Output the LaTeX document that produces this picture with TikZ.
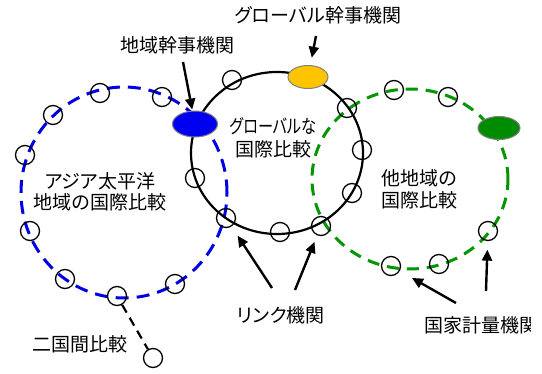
\documentclass[tikz,border=0pt]{standalone}
\usepackage{fontspec}
\setmainfont{Noto Sans CJK JP}[RawFeature=+palt]
\usetikzlibrary{arrows.meta,shapes.geometric}
\definecolor{rblue}{RGB}{0,0,225}
\definecolor{rgreen}{RGB}{0,150,0}
\definecolor{eblue}{RGB}{0,0,240}
\definecolor{eyellow}{RGB}{255,196,0}
\definecolor{egreen}{RGB}{0,140,0}
\begin{document}
\begin{tikzpicture}[x=1pt,y=-1pt,
  lab/.style={font=\fontsize{19}{22}\selectfont, inner sep=0pt, align=center},
  sm/.style={circle,draw=black,line width=1.3pt,minimum size=19pt,inner sep=0pt},
  arr/.style={line width=2.4pt,-{Triangle[length=11pt,width=10pt]}},
  bluering/.style={draw=rblue,line width=3pt,dash pattern=on 13pt off 8pt},
  greenring/.style={draw=rgreen,line width=3pt,dash pattern=on 12pt off 8pt},
  blackring/.style={draw=black,line width=2.2pt},
  hub/.style={ellipse,draw=gray,line width=1pt,inner sep=0pt}]
\useasboundingbox (0,0) rectangle (542,373);
% big rings
\draw[bluering] (124,192.5) ellipse [x radius=103pt, y radius=105.5pt];
\draw[greenring] (410,179) ellipse [x radius=98pt, y radius=90pt];
\draw[blackring] (277,153) ellipse [x radius=86pt, y radius=81pt];
% hubs
\node[hub,fill=eblue,minimum width=45pt,minimum height=26pt] (blueE) at (195,124) {};
\node[hub,fill=eyellow,minimum width=40pt,minimum height=23pt] (yelE) at (308,77) {};
\node[hub,fill=egreen,minimum width=42pt,minimum height=23pt] (grnE) at (499,128) {};
% blue ring nodes
\node[sm] (b1) at (25,155) {};
\node[sm] (b2) at (53,115) {};
\node[sm] (b3) at (100,93) {};
\node[sm] (b4) at (162,97) {};
\node[sm] (b5) at (30,231) {};
\node[sm] (b6) at (65,279) {};
\node[sm] (b7) at (117,296) {};
\node[sm] (b8) at (175,284) {};
% link nodes
\node[sm] (l1) at (226,218) {};
\node[sm] (l2) at (347,108) {};
\node[sm] (l3) at (321,226) {};
% black ring nodes
\node[sm] (k1) at (232,80) {};
\node[sm] (k2) at (362,150) {};
\node[sm] (k3) at (352,193) {};
\node[sm] (k4) at (280,232) {};
\node[sm] (k5) at (195,178) {};
% green ring nodes
\node[sm] (g1) at (394,90) {};
\node[sm] (g2) at (448,97) {};
\node[sm] (g3) at (488,231) {};
\node[sm] (g4) at (439,264) {};
\node[sm] (g5) at (391,266) {};
% bilateral
\node[sm] (bi) at (153,358) {};
\draw[line width=2.2pt,dash pattern=on 9pt off 6pt] (b7) -- (bi);
% labels
\node[lab] (tglob) at (318,15) {グローバル幹事機関};
\node[lab] (treg) at (178,45) {地域幹事機関};
\node[lab] (tgc) at (273,138) {\scalebox{0.8}[1]{グローバルな}\\[1pt]国際比較};
\node[lab] (tap) at (100,192) {アジア太平洋\\[-1pt]地域の国際比較};
\node[lab] (tot) at (419,189) {他地域の\\[0pt]国際比較};
\node[lab] (tlink) at (281,315) {リンク機関};
\node[lab] (tbi) at (80,344) {二国間比較};
\begin{scope}
\clip (0,0) rectangle (530,373);
\node[lab] (tnmi) at (481,325) {国家計量機関};
\end{scope}
% arrow tails
\coordinate (s1) at (183,62);
\coordinate (s2) at (316,36);
\coordinate (s3) at (272,288);
\coordinate (s4) at (295,290);
\coordinate (s5) at (456,303);
\coordinate (s6) at (486,291);
\draw[arr,shorten >=1pt] (s1) -- (blueE);
\draw[arr,shorten >=7.5pt] (s2) -- (yelE);
\draw[arr,shorten >=11pt] (s3) -- (l1);
\draw[arr,shorten >=7pt] (s4) -- (l3);
\draw[arr,shorten >=14pt] (s5) -- (g5);
\draw[arr,shorten >=8.5pt] (s6) -- (g3);
\end{tikzpicture}
\end{document}
